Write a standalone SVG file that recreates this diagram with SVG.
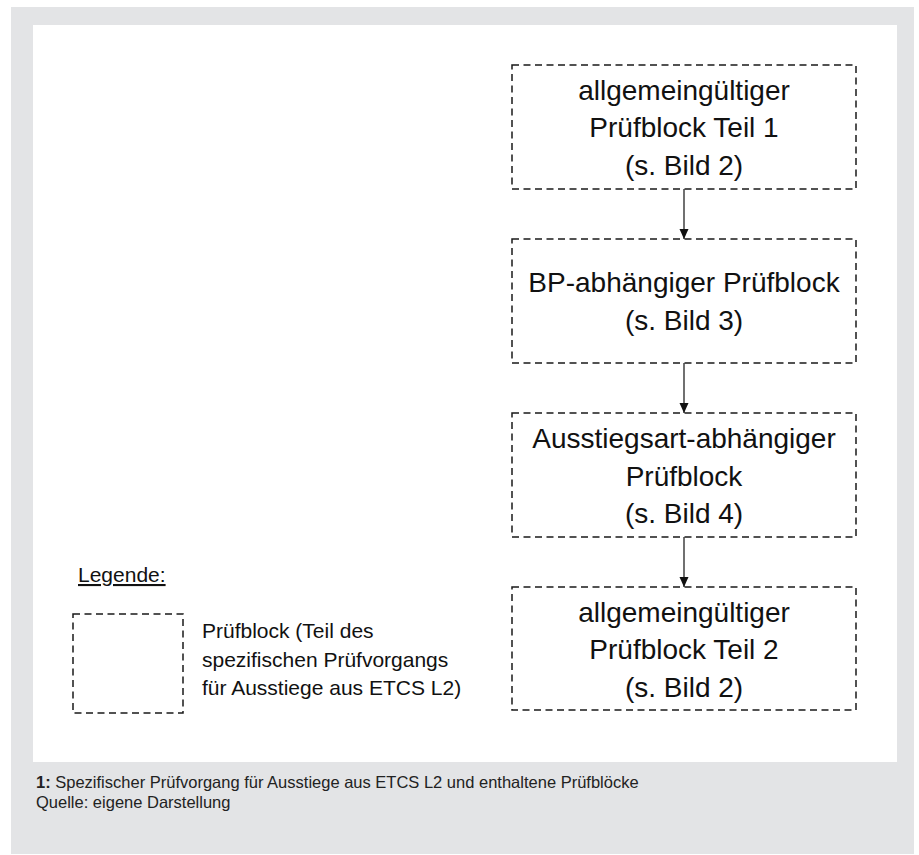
<svg xmlns="http://www.w3.org/2000/svg" width="919" height="855" viewBox="0 0 919 855">
<defs>
<marker id="arr" viewBox="0 0 10 10" refX="10" refY="5" markerWidth="10" markerHeight="10" markerUnits="userSpaceOnUse" orient="auto">
<path d="M0,0.5 L10,5 L0,9.5 Z" fill="#111"/>
</marker>
</defs>
<style>
.box{fill:none;stroke:#1a1a1a;stroke-width:1.5;stroke-dasharray:7 4.5}
.t{font-family:"Liberation Sans",Arial,sans-serif;font-size:28px;fill:#111;text-anchor:middle}
.lg{font-family:"Liberation Sans",Arial,sans-serif;font-size:21px;fill:#111}
.cap{font-family:"Liberation Sans Narrow","Liberation Sans",Arial,sans-serif;font-size:16.5px;fill:#222}
.conn{stroke:#111;stroke-width:1.2;fill:none}
</style>
<rect x="0" y="0" width="919" height="855" fill="#ffffff"/>
<rect x="11" y="7" width="903" height="847" fill="#e3e4e6"/>
<rect x="33" y="25" width="864" height="737" fill="#ffffff"/>

<g id="node1">
<rect class="box" x="512" y="65" width="344" height="124"/>
<text class="t" x="684" y="100">allgemeingültiger</text>
<text class="t" x="684" y="137">Prüfblock Teil 1</text>
<text class="t" x="684" y="175">(s. Bild 2)</text>
</g>
<g id="node2">
<rect class="box" x="512" y="239" width="344" height="124"/>
<text class="t" x="684" y="292">BP-abhängiger Prüfblock</text>
<text class="t" x="684" y="330">(s. Bild 3)</text>
</g>
<g id="node3">
<rect class="box" x="512" y="413" width="344" height="124"/>
<text class="t" x="684" y="448">Ausstiegsart-abhängiger</text>
<text class="t" x="684" y="486">Prüfblock</text>
<text class="t" x="684" y="523">(s. Bild 4)</text>
</g>
<g id="node4">
<rect class="box" x="512" y="587" width="344" height="123"/>
<text class="t" x="684" y="622">allgemeingültiger</text>
<text class="t" x="684" y="659">Prüfblock Teil 2</text>
<text class="t" x="684" y="697">(s. Bild 2)</text>
</g>

<g id="connectors">
<line class="conn" x1="684" y1="189" x2="684" y2="239" marker-end="url(#arr)"/>
<line class="conn" x1="684" y1="363" x2="684" y2="413" marker-end="url(#arr)"/>
<line class="conn" x1="684" y1="537" x2="684" y2="587" marker-end="url(#arr)"/>
</g>

<g id="legend">
<text class="lg" x="78" y="582" text-decoration="underline">Legende:</text>
<rect class="box" x="73" y="614" width="110" height="99"/>
<text class="lg" x="202" y="638">Prüfblock (Teil des</text>
<text class="lg" x="202" y="667">spezifischen Prüfvorgangs</text>
<text class="lg" x="202" y="695">für Ausstiege aus ETCS L2)</text>
</g>

<g id="caption">
<text class="cap" x="36" y="788"><tspan font-weight="bold">1:</tspan> Spezifischer Prüfvorgang für Ausstiege aus ETCS L2 und enthaltene Prüfblöcke</text>
<text class="cap" x="36" y="808">Quelle: eigene Darstellung</text>
</g>
</svg>
